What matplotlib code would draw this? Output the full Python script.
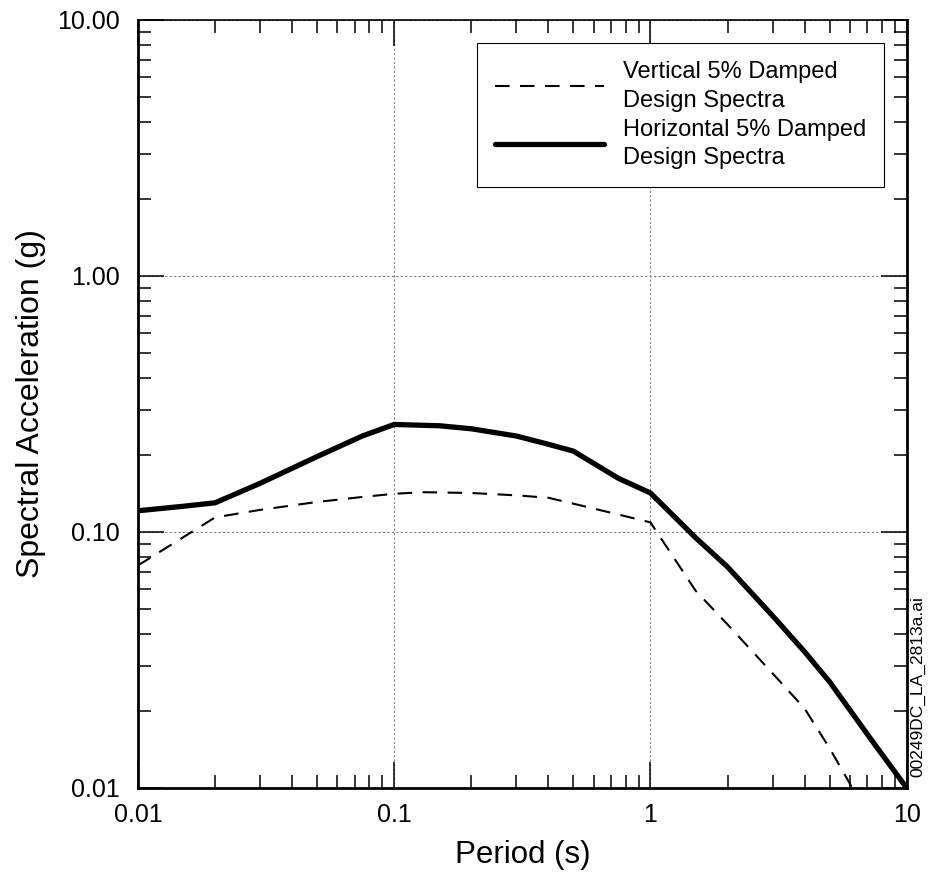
import numpy as np
import matplotlib
matplotlib.use("Agg")
import matplotlib.pyplot as plt
from matplotlib.ticker import FixedLocator, LogLocator, NullFormatter

plt.rcParams['font.family'] = ['Liberation Sans', 'DejaVu Sans']

# horizontal 5% damped design spectrum
h_period = [0.01, 0.015, 0.02, 0.03, 0.05, 0.075, 0.1, 0.15, 0.2, 0.3, 0.4,
            0.5, 0.75, 1.0, 1.5, 2.0, 3.0, 4.0, 5.0, 7.5, 10.0]
h_sa = [0.121, 0.126, 0.130, 0.155, 0.197, 0.237, 0.263, 0.260, 0.253, 0.237,
        0.220, 0.207, 0.162, 0.142, 0.095, 0.073, 0.047, 0.034, 0.026, 0.0148, 0.010]

# vertical 5% damped design spectrum
v_period = [0.01, 0.02, 0.03, 0.05, 0.075, 0.1, 0.13, 0.2, 0.3, 0.4, 0.5,
            0.75, 1.0, 1.5, 2.0, 3.0, 4.0, 5.0, 6.0, 6.3]
v_sa = [0.074, 0.114, 0.122, 0.131, 0.137, 0.141, 0.143, 0.142, 0.139, 0.136,
        0.129, 0.117, 0.109, 0.059, 0.0435, 0.028, 0.0204, 0.0143, 0.0104, 0.0094]

xticks = [0.01, 0.1, 1, 10]
xlabels = ["0.01", "0.1", "1", "10"]
yticks = [0.01, 0.1, 1, 10]
ylabels = ["0.01", "0.10", "1.00", "10.00"]

fig = plt.figure(figsize=(9.29, 8.73), dpi=100)
ax = fig.add_axes([0.1485, 0.0974, 0.8275, 0.8797])

ax.plot(v_period, v_sa, color='black', lw=1.5, linestyle=(0, (7, 5)),
        label="Vertical 5% Damped\nDesign Spectra")
ax.plot(h_period, h_sa, color='black', lw=3.8, solid_capstyle='round',
        label="Horizontal 5% Damped\nDesign Spectra")

ax.set_xscale('log')
ax.set_yscale('log')
ax.set_xlim(0.01, 10)
ax.set_ylim(0.01, 10)

ax.xaxis.set_major_locator(FixedLocator(xticks))
ax.yaxis.set_major_locator(FixedLocator(yticks))
ax.set_xticklabels(xlabels)
ax.set_yticklabels(ylabels)
ax.xaxis.set_minor_locator(LogLocator(base=10, subs=np.arange(2, 10)))
ax.yaxis.set_minor_locator(LogLocator(base=10, subs=np.arange(2, 10)))
ax.xaxis.set_minor_formatter(NullFormatter())
ax.yaxis.set_minor_formatter(NullFormatter())

ax.tick_params(which='both', direction='in', top=True, right=True, width=1.1, colors='black')
ax.tick_params(which='major', length=19, labelsize=18)
ax.tick_params(axis='y', which='major', pad=13)
ax.tick_params(axis='x', which='major', pad=11)
ax.tick_params(which='minor', length=9.5)

ax.grid(True, which='major', linestyle=(0, (2, 2)), color='gray', lw=0.8)

for sp in ax.spines.values():
    sp.set_linewidth(2.0)
ax.spines['top'].set_linewidth(1.2)

ax.set_xlabel("Period (s)", fontsize=22.5, labelpad=9)
ax.set_ylabel("Spectral Acceleration (g)", fontsize=23, labelpad=8)

leg = ax.legend(loc='upper right', fontsize=17, handlelength=4.6, frameon=True,
                fancybox=False, borderpad=0.75, labelspacing=0.3, handletextpad=0.8,
                borderaxespad=0, bbox_to_anchor=(0.970, 0.970),
                edgecolor='black', framealpha=1)
leg.get_frame().set_linewidth(0.8)
for t in leg.get_texts():
    t.set_linespacing(1.4)

fig.text(0.988, 0.213, "00249DC_LA_2813a.ai", rotation=90, fontsize=12.5,
         ha='center', va='center')

fig.savefig("out.png", dpi=100)
